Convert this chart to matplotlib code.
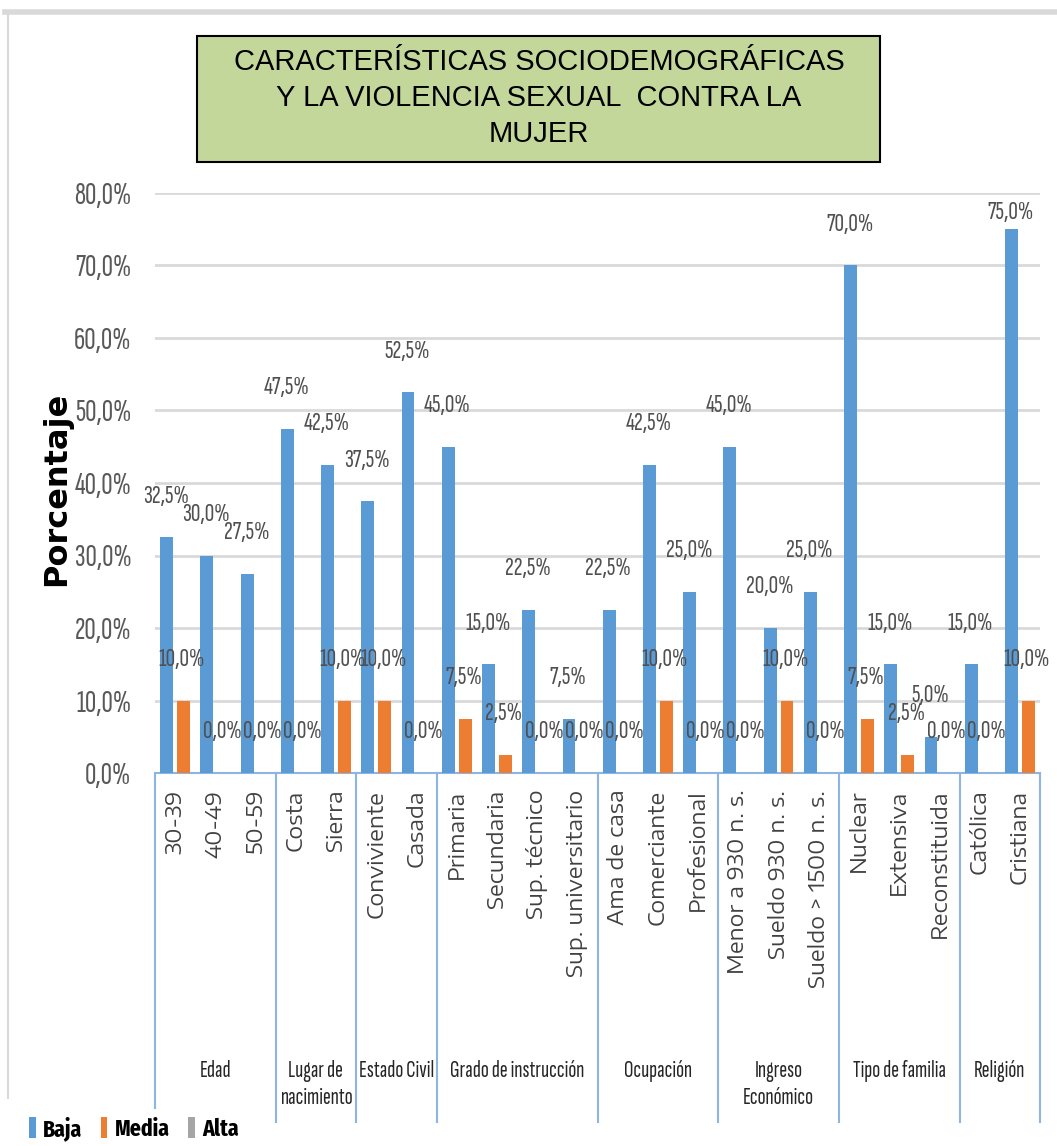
import matplotlib
matplotlib.use('Agg')
import matplotlib.pyplot as plt
import matplotlib.transforms as mtransforms
from matplotlib.patches import Rectangle, Patch
from matplotlib.lines import Line2D
import numpy as np

# ---------------- data ----------------
categories = ["30-39", "40-49", "50-59", "Costa", "Sierra", "Conviviente", "Casada",
              "Primaria", "Secundaria", "Sup. técnico", "Sup. universitario",
              "Ama de casa", "Comerciante", "Profesional",
              "Menor a 930 n. s.", "Sueldo 930 n. s.", "Sueldo > 1500 n. s.",
              "Nuclear", "Extensiva", "Reconstituida", "Católica", "Cristiana"]
groups = ["Edad", "Lugar de\nnacimiento", "Estado Civil", "Grado de instrucción",
          "Ocupación", "Ingreso\nEconómico", "Tipo de familia", "Religión"]
group_sizes = [3, 2, 2, 4, 3, 3, 3, 2]
baja = [32.5, 30.0, 27.5, 47.5, 42.5, 37.5, 52.5, 45.0, 15.0, 22.5, 7.5,
        22.5, 42.5, 25.0, 45.0, 20.0, 25.0, 70.0, 15.0, 5.0, 15.0, 75.0]
media = [10.0, 0.0, 0.0, 0.0, 10.0, 10.0, 0.0, 7.5, 2.5, 0.0, 0.0,
         0.0, 10.0, 0.0, 0.0, 10.0, 0.0, 7.5, 2.5, 0.0, 0.0, 10.0]
alta = [0.0] * 22
series_names = ["Baja", "Media", "Alta"]
yticks = [0, 10, 20, 30, 40, 50, 60, 70, 80]
title = "CARACTERÍSTICAS SOCIODEMOGRÁFICAS\nY LA VIOLENCIA SEXUAL  CONTRA LA\nMUJER"

# ---------------- style ----------------
C_BAJA, C_MEDIA, C_ALTA = "#5b9bd5", "#ed7d31", "#a5a5a5"
COND = ["Sofia Sans Extra Condensed", "Fira Sans Extra Condensed", "DejaVu Sans"]
COND_B = ["Fira Sans Extra Condensed", "Sofia Sans Extra Condensed", "DejaVu Sans"]
WIDE = ["Encode Sans Expanded", "DejaVu Sans"]
ARIAL = ["Liberation Sans", "DejaVu Sans"]
AXBLUE = "#8db4e2"

W, H = 1057, 1146
fig = plt.figure(figsize=(W / 100, H / 100), dpi=100)
fig.patch.set_facecolor("white")

def fy(py):
    return (H - py) / H

ax = fig.add_axes([155 / W, fy(773), (1040 - 155) / W, (773 - 193) / H])

x = np.arange(len(categories))
bw = 0.32
ax.bar(x - 0.21, baja, bw, color=C_BAJA, zorder=3)
ax.bar(x + 0.21, media, bw, color=C_MEDIA, zorder=3)

ax.set_xlim(-0.5, len(categories) - 0.5)
ax.set_ylim(0, 80)
ax.set_axisbelow(True)
ax.yaxis.grid(True, color="#d9d9d9", lw=2)
for s in ["top", "right", "left"]:
    ax.spines[s].set_visible(False)
ax.spines["bottom"].set_color(AXBLUE)
ax.spines["bottom"].set_linewidth(1.5)

ax.set_yticks(yticks)
ax.set_yticklabels([f"{v:.1f}%".replace(".", ",") for v in yticks],
                   family=COND, fontsize=22.5, color="#595959")
ax.tick_params(axis="y", length=0, pad=17)
ax.set_xticks(x)
ax.set_xticklabels(categories, rotation=90, family=WIDE,
                   fontsize=15.5, color="#404040")
ax.tick_params(axis="x", length=0, pad=12)

# data labels
off = 5.66
for xi, v in zip(x, baja):
    ax.text(xi - 0.23, min(v + off, 77.3), f"{v:.1f}%".replace(".", ","),
            ha="center", va="center", family=COND, fontsize=19,
            color="#505050", zorder=5, clip_on=False)
for xi, v in zip(x, media):
    ax.text(xi + 0.17, min(v + off, 77.3), f"{v:.1f}%".replace(".", ","),
            ha="center", va="center", family=COND, fontsize=19,
            color="#505050", zorder=5, clip_on=False)

# group separators and labels
trans = mtransforms.blended_transform_factory(ax.transData, fig.transFigure)
bounds = np.concatenate([[0], np.cumsum(group_sizes)]) - 0.5
for b in bounds:
    ax.plot([b, b], [fy(773), fy(1122)], color=AXBLUE, lw=1.5,
            transform=trans, clip_on=False, zorder=1)
for g, a, b in zip(groups, bounds[:-1], bounds[1:]):
    ax.text((a + b) / 2, fy(1060), g, transform=trans, ha="center", va="top",
            family=COND, fontsize=17, color="#262626", linespacing=1.3)

# y label
fig.text(57 / W, fy(489), "Porcentaje", rotation=90, ha="center", va="center",
         fontsize=23, fontweight="bold", family="DejaVu Sans", color="black")

# chart frame remnants
fig.add_artist(Line2D([5 / W, 1], [fy(12), fy(12)], color="#d9d9d9", lw=4))
fig.add_artist(Line2D([8 / W, 8 / W], [fy(14), fy(1098)], color="#d9d9d9", lw=1.5))

# title box
fig.add_artist(Rectangle((197 / W, fy(162)), (880 - 197) / W, (162 - 36) / H,
                         facecolor="#c4d79b", edgecolor="black", lw=1.5,
                         transform=fig.transFigure))
fig.text(539 / W, fy(98), title, ha="center", va="center", family=ARIAL,
         fontsize=21, color="black", linespacing=1.38)

# legend
handles = [Patch(facecolor=c, edgecolor="none") for c in (C_BAJA, C_MEDIA, C_ALTA)]
leg = fig.legend(handles, series_names, loc="lower left",
                 bbox_to_anchor=(10 / W, -0.012), ncol=3, frameon=True,
                 handlelength=0.28, handleheight=1.0, handletextpad=0.3,
                 columnspacing=0.8, borderpad=0.3,
                 prop={"family": COND_B, "weight": "bold", "size": 17})
leg.get_frame().set_facecolor("white")
leg.get_frame().set_edgecolor("none")
leg.get_frame().set_alpha(1)

fig.savefig("out.png", dpi=100, facecolor="white")
